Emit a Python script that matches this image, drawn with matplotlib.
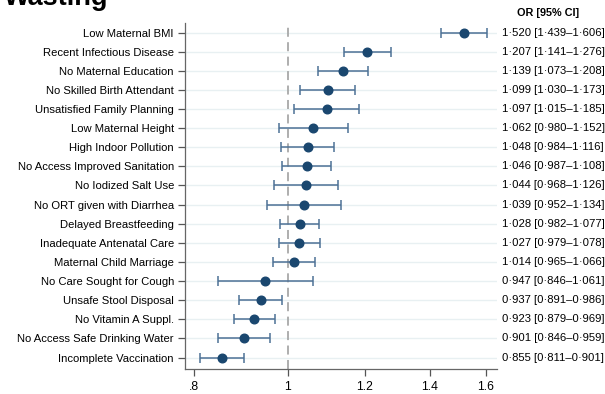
import numpy as np
import matplotlib
matplotlib.use("Agg")
import matplotlib.pyplot as plt
from matplotlib.ticker import FixedLocator, NullLocator

plt.rcParams['font.family'] = ['Liberation Sans', 'DejaVu Sans']

factors = [
    "Low Maternal BMI", "Recent Infectious Disease", "No Maternal Education",
    "No Skilled Birth Attendant", "Unsatisfied Family Planning", "Low Maternal Height",
    "High Indoor Pollution", "No Access Improved Sanitation", "No Iodized Salt Use",
    "No ORT given with Diarrhea", "Delayed Breastfeeding", "Inadequate Antenatal Care",
    "Maternal Child Marriage", "No Care Sought for Cough", "Unsafe Stool Disposal",
    "No Vitamin A Suppl.", "No Access Safe Drinking Water", "Incomplete Vaccination",
]
odds_ratio = [1.520, 1.207, 1.139, 1.099, 1.097, 1.062, 1.048, 1.046, 1.044,
              1.039, 1.028, 1.027, 1.014, 0.947, 0.937, 0.923, 0.901, 0.855]
ci_low = [1.439, 1.141, 1.073, 1.030, 1.015, 0.980, 0.984, 0.987, 0.968,
          0.952, 0.982, 0.979, 0.965, 0.846, 0.891, 0.879, 0.846, 0.811]
ci_high = [1.606, 1.276, 1.208, 1.173, 1.185, 1.152, 1.116, 1.108, 1.126,
           1.134, 1.077, 1.078, 1.066, 1.061, 0.986, 0.969, 0.959, 0.901]
x_ticks = [0.8, 1.0, 1.2, 1.4, 1.6]
x_tick_labels = [".8", "1", "1.2", "1.4", "1.6"]

W, H = 605, 394
fig = plt.figure(figsize=(W / 100, H / 100), dpi=100)
# axes box in pixel coordinates
left, right, top, bottom = 185, 497, 23, 369
ax = fig.add_axes([left / W, 1 - bottom / H, (right - left) / W, (bottom - top) / H])

n = len(factors)
y = np.arange(n)[::-1]
or_arr = np.array(odds_ratio)
err = np.vstack([or_arr - np.array(ci_low), np.array(ci_high) - or_arr])

for yy in y:
    ax.axhline(yy, color='#e8f0f2', lw=1.0, zorder=0)
ax.axvline(1.0, color='#a8a8a8', lw=1.3, ls=(0, (5, 3)), zorder=1)

ax.errorbar(odds_ratio, y, xerr=err, fmt='none', ecolor='#4d7196', elinewidth=1.1,
            capsize=3.5, capthick=1.1, zorder=2)
ax.plot(odds_ratio, y, 'o', color='#1a476f', ms=6.2, zorder=3)

ax.set_xscale('log')
ax.set_xlim(0.783, 1.643)
ax.set_ylim(-0.6, n - 0.5)
ax.xaxis.set_major_locator(FixedLocator(x_ticks))
ax.xaxis.set_minor_locator(NullLocator())
ax.set_xticks(x_ticks)
ax.set_xticklabels(x_tick_labels)
ax.set_yticks(y)
ax.set_yticklabels(factors)
ax.tick_params(axis='both', labelsize=8.1, colors='#555555', labelcolor='black',
               length=5, width=0.9, pad=3)
ax.tick_params(axis='x', labelsize=8.8, pad=4)
for s in ['top', 'right']:
    ax.spines[s].set_visible(False)
for s in ['left', 'bottom']:
    ax.spines[s].set_color('#666666')
    ax.spines[s].set_linewidth(0.9)

# OR [95% CI] column
def fmt(v):
    return f"{v:.3f}".replace('.', '\u00b7')

for yy, o, lo, hi in zip(y, odds_ratio, ci_low, ci_high):
    ax.text(1.015, yy, f"{fmt(o)} [{fmt(lo)}\u2013{fmt(hi)}]", transform=ax.get_yaxis_transform(),
            ha='left', va='center', fontsize=8.1, clip_on=False)
fig.text(548 / W, 1 - 13 / H, "OR [95% CI]", ha='center', va='center', fontsize=7.8,
         fontweight='bold')
fig.text(4 / W, 1 - 5 / H, "Wasting", ha='left', va='baseline', fontsize=19.5,
         fontweight='bold')

fig.savefig("out.png", dpi=100, facecolor='white')
